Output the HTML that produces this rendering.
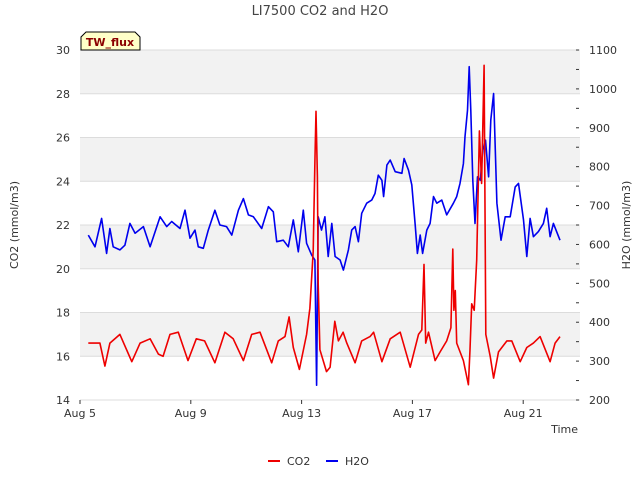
<!DOCTYPE html>
<html><head><meta charset="utf-8"><style>
body{margin:0;background:#fff;font-family:"Liberation Sans","DejaVu Sans",sans-serif}
svg text{font-family:"DejaVu Sans","Liberation Sans",sans-serif}
</style></head><body>
<svg id="c" width="640" height="480" xmlns="http://www.w3.org/2000/svg"></svg>
<script>
const co2Days=[0.3,0.72,0.9,1.08,1.44,1.87,2.17,2.53,2.83,3.0,3.25,3.55,3.9,4.2,4.5,4.87,5.23,5.53,5.9,6.2,6.5,6.92,7.16,7.4,7.55,7.7,7.92,8.18,8.3,8.42,8.48,8.52,8.57,8.6,8.66,8.9,9.03,9.2,9.33,9.5,9.63,9.93,10.17,10.47,10.6,10.9,11.2,11.56,11.92,12.22,12.34,12.42,12.48,12.58,12.82,13.0,13.24,13.39,13.46,13.5,13.55,13.6,13.84,14.02,14.08,14.14,14.23,14.32,14.42,14.5,14.59,14.65,14.81,14.93,15.11,15.41,15.59,15.89,16.13,16.37,16.61,16.97,17.15,17.33];
const co2Vals=[16.6,16.6,15.55,16.6,17.0,15.75,16.6,16.8,16.1,16.0,17.0,17.1,15.8,16.8,16.7,15.7,17.1,16.8,15.8,17.0,17.1,15.7,16.7,16.9,17.8,16.4,15.4,17.0,18.2,20.8,24.9,27.2,24.2,19.3,16.3,15.3,15.5,17.6,16.7,17.1,16.6,15.7,16.7,16.9,17.1,15.75,16.8,17.1,15.5,17.0,17.2,20.2,16.6,17.1,15.8,16.2,16.7,17.3,20.9,18.1,19.0,16.6,15.8,14.7,16.3,18.4,18.1,20.4,26.3,23.9,29.3,17.0,16.0,15.0,16.2,16.7,16.7,15.75,16.4,16.6,16.9,15.75,16.6,16.9];
const h2oDays=[0.3,0.54,0.78,0.96,1.08,1.2,1.44,1.62,1.8,1.99,2.29,2.53,2.89,3.13,3.31,3.61,3.79,3.97,4.15,4.27,4.45,4.63,4.87,5.05,5.29,5.48,5.72,5.9,6.08,6.26,6.56,6.8,6.98,7.1,7.34,7.52,7.7,7.88,8.06,8.18,8.36,8.48,8.54,8.6,8.72,8.84,8.96,9.09,9.21,9.39,9.51,9.69,9.81,9.93,10.05,10.17,10.35,10.53,10.65,10.77,10.9,10.96,11.08,11.2,11.38,11.62,11.7,11.86,11.98,12.1,12.18,12.28,12.37,12.52,12.64,12.76,12.88,13.06,13.24,13.48,13.6,13.72,13.84,13.9,13.99,14.05,14.11,14.18,14.26,14.35,14.45,14.54,14.64,14.75,14.83,14.93,15.05,15.2,15.35,15.53,15.71,15.83,16.01,16.13,16.25,16.37,16.55,16.73,16.85,16.97,17.09,17.33];
const h2oVals=[624,594,667,577,641,594,586,598,654,629,646,594,671,646,659,641,688,616,637,594,590,637,688,650,646,624,688,718,676,671,641,697,684,607,611,594,663,581,688,603,573,560,238,671,637,671,569,654,569,560,534,586,637,646,607,680,706,714,731,778,765,723,804,817,787,783,821,791,753,650,577,624,577,637,654,723,706,714,676,706,723,757,808,877,945,1057,945,765,654,774,765,842,868,774,920,988,706,611,671,671,748,757,663,569,667,620,633,654,693,620,654,611];
const leftTicks=[14,16,18,20,22,24,26,28,30];
const rightTicks=[200,300,400,500,600,700,800,900,1000,1100];
const xTickDays=[0,4,8,12,16];
const xTickLabels=["Aug 5","Aug 9","Aug 13","Aug 17","Aug 21"];
const L=80,R=580,T=50,B=400;
const xs=d=>L+d*27.7;
const yl=v=>B-(v-14)/16*(B-T);
const yr=v=>B-(v-200)/900*(B-T);
const svg=document.getElementById('c');const NS='http://www.w3.org/2000/svg';
function mk(t,a,txt){const e=document.createElementNS(NS,t);for(const k in a)e.setAttribute(k,a[k]);if(txt!==undefined)e.textContent=txt;svg.appendChild(e);return e;}
let e;
e=mk('rect',{x:L,y:T,width:R-L,height:B-T,fill:'#fff'});


for(let i=0;i<leftTicks.length-1;i++){ if(i%2===1){ e=mk('rect',{x:L,y:yl(leftTicks[i+1]),width:R-L,height:yl(leftTicks[i])-yl(leftTicks[i+1]),fill:'#f2f2f2'});

}}
leftTicks.forEach(v=>{e=mk('line',{x1:L,x2:R,y1:yl(v),y2:yl(v),stroke:'#dcdcdc','stroke-width':1});


e=mk('text',{x:L-10,y:yl(v)+4,'text-anchor':'end','font-size':11,fill:'#333'},v);

});
rightTicks.forEach(v=>{e=mk('text',{x:R+9,y:yr(v)+4,'font-size':11,fill:'#333'},v);


mk('line',{x1:R-4,x2:R-1,y1:yr(v),y2:yr(v),stroke:'#333'});
if(v<1100){mk('line',{x1:R-4,x2:R-1,y1:yr(v+50),y2:yr(v+50),stroke:'#333'});}});
xTickDays.forEach((d,i)=>{mk('line',{x1:xs(d),x2:xs(d),y1:B,y2:B+4,stroke:'#333'});
e=mk('text',{x:xs(d),y:B+17,'text-anchor':'middle','font-size':11,fill:'#333'},xTickLabels[i]);

});
function line(days,vals,yf,col,name){const p=days.map((d,i)=>xs(d).toFixed(1)+','+yf(vals[i]).toFixed(1)).join(' ');
const el=mk('polyline',{points:p,fill:'none',stroke:col,'stroke-width':1.6,'stroke-linejoin':'round'});

}
line(h2oDays,h2oVals,yr,'#0000ee','h2o-line');
line(co2Days,co2Vals,yl,'#ee0000','co2-line');
e=mk('text',{x:320,y:15,'text-anchor':'middle','font-size':13,fill:'#444'},'LI7500 CO2 and H2O');


e=mk('text',{x:18,y:225,'text-anchor':'middle','font-size':11,fill:'#333',transform:'rotate(-90 18 225)'},'CO2 (mmol/m3)');


e=mk('text',{x:630,y:225,'text-anchor':'middle','font-size':11,fill:'#333',transform:'rotate(-90 630 225)'},'H2O (mmol/m3)');


e=mk('text',{x:578,y:433,'text-anchor':'end','font-size':11,fill:'#333'},'Time');


e=mk('path',{d:'M81,50 L81,37 L86,32 L135,32 L140,37 L140,50 Z',fill:'#ffffc8',stroke:'#000','stroke-width':1});


e=mk('text',{x:110,y:46,'text-anchor':'middle','font-size':11,'font-weight':'bold',fill:'#8b0000'},'TW_flux');


mk('line',{x1:268,x2:280,y1:461,y2:461,stroke:'#ee0000','stroke-width':2});
e=mk('text',{x:287,y:465,'font-size':11,fill:'#333'},'CO2');


mk('line',{x1:326,x2:338,y1:461,y2:461,stroke:'#0000ee','stroke-width':2});
e=mk('text',{x:345,y:465,'font-size':11,fill:'#333'},'H2O');


</script>
</body></html>
